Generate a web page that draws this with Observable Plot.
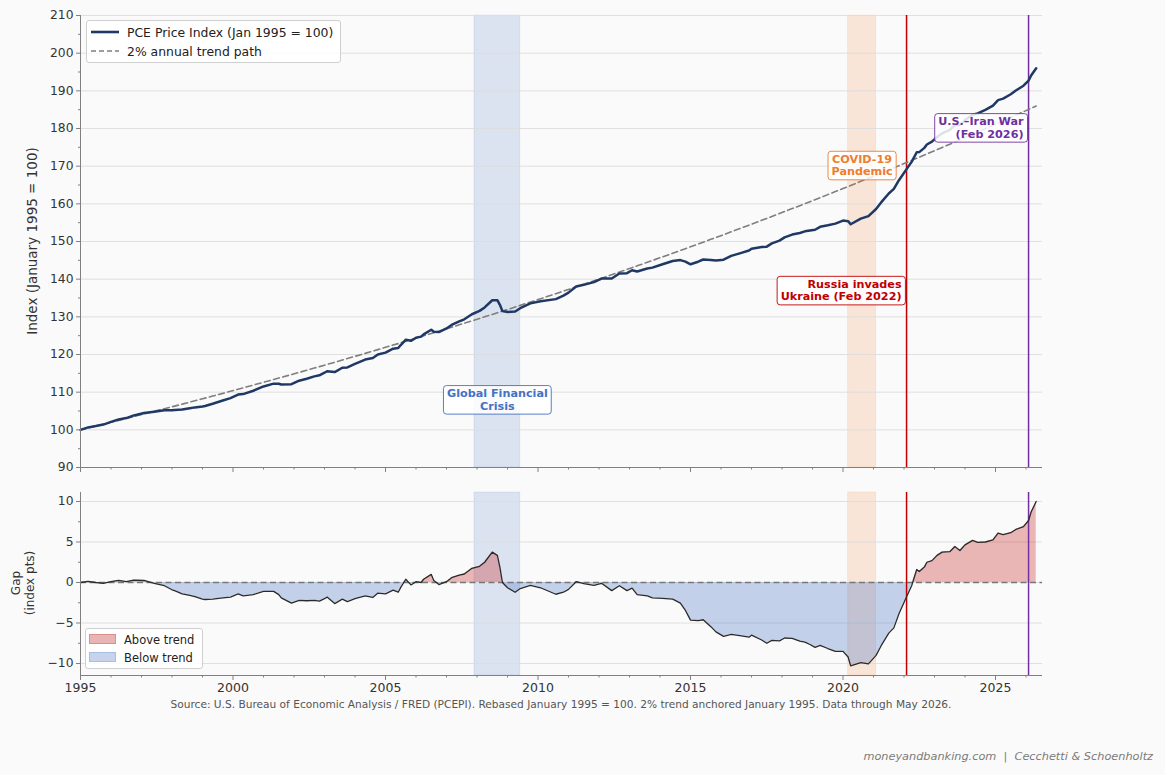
<!DOCTYPE html>
<html><head><meta charset="utf-8">
<script src="https://cdn.jsdelivr.net/npm/d3@7"></script>
<script src="https://cdn.jsdelivr.net/npm/@observablehq/plot@0.6"></script>
<style>
html,body{margin:0;padding:0;background:#fafafa;}
#wrap{position:relative;width:1165px;height:775px;font-family:"DejaVu Sans",sans-serif;color:#333;overflow:hidden;}
#top,#bot{position:absolute;left:0;}
#top{top:0}
#bot{top:480px}
.abs{position:absolute;white-space:nowrap;}
.legend{position:absolute;background:rgba(255,255,255,0.85);border:1px solid #cfcfcf;border-radius:3px;box-sizing:border-box;}
.legend .row{position:absolute;display:flex;align-items:center;}
</style></head><body><div id="wrap">
<div id="top"></div><div id="bot"></div>
</div>
<script>
// ---------- data ----------
const gapDates = ["1995-01","1995-04","1995-07","1995-10","1996-01","1996-04","1996-07","1996-10","1997-02","1997-06","1997-10","1998-01","1998-02","1998-05","1998-08","1998-10","1999-01","1999-02","1999-05","1999-09","1999-12","2000-03","2000-05","2000-09","2001-01","2001-05","2001-07","2001-08","2001-12","2002-03","2002-06","2002-09","2002-11","2003-01","2003-02","2003-05","2003-08","2003-10","2004-01","2004-05","2004-08","2004-10","2005-01","2005-04","2005-06","2005-07","2005-09","2005-10","2005-11","2006-01","2006-03","2006-04","2006-07","2006-08","2006-10","2007-01","2007-03","2007-06","2007-08","2007-11","2008-02","2008-04","2008-07","2008-09","2008-10","2008-11","2009-01","2009-04","2009-06","2009-10","2010-02","2010-08","2010-11","2011-01","2011-04","2011-07","2011-11","2012-02","2012-06","2012-09","2012-12","2013-02","2013-04","2013-08","2013-10","2014-02","2014-06","2014-09","2014-11","2015-01","2015-04","2015-06","2015-09","2015-11","2016-02","2016-05","2016-09","2016-12","2017-01","2017-05","2017-07","2017-09","2017-12","2018-02","2018-05","2018-08","2018-10","2018-12","2019-02","2019-04","2019-07","2019-10","2020-01","2020-03","2020-04","2020-08","2020-11","2021-02","2021-04","2021-07","2021-09","2021-11","2022-02","2022-04","2022-06","2022-07","2022-09","2022-10","2022-12","2023-02","2023-04","2023-07","2023-09","2023-11","2024-01","2024-04","2024-06","2024-09","2024-12","2025-02","2025-04","2025-07","2025-09","2025-12","2026-02","2026-03","2026-05"];
const gapValues = [0.0,0.15,0.0,-0.1,0.1,0.25,0.1,0.3,0.25,-0.1,-0.4,-0.9,-1.0,-1.4,-1.6,-1.75,-2.05,-2.1,-2.05,-1.9,-1.8,-1.4,-1.65,-1.5,-1.1,-1.1,-1.5,-1.9,-2.55,-2.2,-2.25,-2.2,-2.3,-2.0,-1.8,-2.6,-2.05,-2.35,-2.0,-1.65,-1.85,-1.3,-1.4,-0.95,-1.2,-0.6,0.4,0.05,-0.3,0.1,0.0,0.4,1.0,0.25,-0.25,0.1,0.6,0.9,1.05,1.75,2.0,2.5,3.75,3.35,1.9,0.0,-0.65,-1.2,-0.75,-0.35,-0.65,-1.45,-1.2,-0.85,0.1,-0.15,-0.35,-0.1,-1.0,-0.4,-1.0,-0.7,-1.5,-1.65,-1.9,-1.95,-2.05,-2.55,-3.45,-4.65,-4.7,-4.6,-5.45,-6.1,-6.65,-6.4,-6.6,-6.75,-6.5,-7.1,-7.5,-7.15,-7.2,-6.85,-6.9,-7.25,-7.35,-7.65,-8.0,-7.75,-8.15,-8.5,-8.5,-9.2,-10.3,-9.9,-10.05,-9.0,-7.8,-6.25,-5.6,-3.85,-1.75,-0.4,1.6,1.35,1.9,2.5,2.7,3.35,3.75,3.8,4.45,3.95,4.65,5.2,4.95,5.0,5.25,6.1,5.9,6.15,6.55,6.9,7.65,8.7,10.0];
const baseYear = 1995, baseIndex = 100, trendRate = 0.02;

const bandNames = ["Global Financial Crisis","COVID-19 Pandemic"];
const bandStart = [2007.917, 2020.167];
const bandEnd = [2009.417, 2021.083];
const bandColors = ["#4472c4","#ed7d31"];

const eventNames = ["Russia invades Ukraine","U.S.–Iran War"];
const eventDates = [2022.083, 2026.083];
const eventColors = ["#c00000","#7030a0"];

const annoLabels = ["Global Financial\nCrisis","COVID-19\nPandemic","Russia invades\nUkraine (Feb 2022)","U.S.–Iran War\n(Feb 2026)"];
const annoX = [2008.667, 2020.625, 2022.083, 2026.083];
const annoY = [108.1, 170.3, 137.1, 180.3];
const annoAnchor = ["middle","middle","end","end"];
const annoColors = ["#4472c4","#ed7d31","#c00000","#7030a0"];

const xDomain = [1995, 2026.54];
const xMajor = [1995, 2000, 2005, 2010, 2015, 2020, 2025];
const xMinor = d3.range(1996, 2027);
const yTopDomain = [90, 210];
const yTopTicks = [90,100,110,120,130,140,150,160,170,180,190,200,210];
const yTopMinor = [95,105,115,125,135,145,155,165,175,185,195,205];
const yGapDomain = [-11.48, 11.11];
const yGapTicks = [-10,-5,0,5,10];
const yGapMinor = [-7.5,-2.5,2.5,7.5];

// ---------- derived ----------
const series = gapDates.map((d, i) => {
  const [yy, mm] = d.split("-").map(Number);
  const t = yy + (mm - 1) / 12;
  const trend = baseIndex * Math.pow(1 + trendRate, t - baseYear);
  return {t, gap: gapValues[i], trend, index: trend + gapValues[i]};
});
const bandRows = (lo, hi) => bandNames.map((n, i) => ({name: n, start: bandStart[i], end: bandEnd[i], color: bandColors[i], lo, hi}));
const eventRows = eventNames.map((n, i) => ({name: n, t: eventDates[i], color: eventColors[i]}));

const font = "DejaVu Sans, sans-serif";
const common = {
  width: 1165,
  marginLeft: 80, marginRight: 123,
  x: {domain: xDomain},
  color: {type: "identity"},
  style: {fontFamily: font, fontSize: "12px", background: "transparent", color: "#333", overflow: "visible"}
};
const axisStroke = "#808080";

const topChart = Plot.plot({
  ...common,
  height: 480, marginTop: 15, marginBottom: 13,
  y: {domain: yTopDomain},
  marks: [
    Plot.rect(bandRows(yTopDomain[0], yTopDomain[1]), {x1: "start", x2: "end", y1: "lo", y2: "hi", fill: "color", fillOpacity: 0.17, stroke: "color", strokeOpacity: 0.12}),
    Plot.gridY(yTopTicks.filter(v => v > 90), {stroke: "#dcdcdc", strokeOpacity: 1, strokeWidth: 0.9}),
    Plot.ruleX(eventRows, {x: "t", stroke: "color", strokeWidth: 1.5}),
    Plot.line(series, {x: "t", y: "trend", stroke: "#7f7f7f", strokeWidth: 1.6, strokeDasharray: "6,3.5"}),
    Plot.line(series, {x: "t", y: "index", stroke: "#1f3864", strokeWidth: 2.5, curve: "linear"}),
    ...annoLabels.map((lab, i) => Plot.text([lab], {x: () => annoX[i], y: () => annoY[i], text: d => d, textAnchor: annoAnchor[i], dx: annoAnchor[i] === "end" ? -5 : 0, fill: annoColors[i], fontWeight: "bold", fontSize: 11.2, lineHeight: 1.12})),
    Plot.ruleX([xDomain[0]], {stroke: axisStroke, strokeWidth: 1}),
    Plot.ruleY([yTopDomain[0]], {stroke: axisStroke, strokeWidth: 1}),
    Plot.axisY(yTopTicks, {tickSize: 4, tickPadding: 3, label: null, stroke: axisStroke, fill: "#333", fontSize: 12.3}),
    Plot.axisY(yTopMinor, {tickSize: 2, tickFormat: () => "", label: null, stroke: axisStroke}),
    Plot.axisX(xMajor, {tickSize: 5, tickFormat: () => "", label: null, stroke: axisStroke}),
    Plot.axisX(xMinor.filter(v => !xMajor.includes(v)), {tickSize: 2.5, tickFormat: () => "", label: null, stroke: axisStroke})
  ]
});

const botChart = Plot.plot({
  ...common,
  height: 215, marginTop: 12, marginBottom: 20,
  y: {domain: yGapDomain},
  marks: [
    Plot.rect(bandRows(yGapDomain[0], yGapDomain[1]), {x1: "start", x2: "end", y1: "lo", y2: "hi", fill: "color", fillOpacity: 0.17, stroke: "color", strokeOpacity: 0.12}),
    Plot.gridY(yGapTicks, {stroke: "#dcdcdc", strokeOpacity: 1, strokeWidth: 0.9}),
    Plot.areaY(series, {x: "t", y1: 0, y2: "gap", fill: "#cc3333", fillOpacity: 0.35}),
    Plot.areaY(series, {x: "t", y1: 0, y2: "gap", fill: "#4472c4", fillOpacity: 0.3}),
    Plot.ruleY([0], {stroke: "#777", strokeWidth: 1.4, strokeDasharray: "6,3.5"}),
    Plot.ruleX(eventRows, {x: "t", stroke: "color", strokeWidth: 1.5}),
    Plot.line(series, {x: "t", y: "gap", stroke: "#2a2a2a", strokeWidth: 1.3}),
    Plot.ruleX([xDomain[0]], {stroke: axisStroke, strokeWidth: 1}),
    Plot.ruleY([yGapDomain[0]], {stroke: axisStroke, strokeWidth: 1}),
    Plot.axisY(yGapTicks, {tickSize: 4, tickPadding: 3, label: null, stroke: axisStroke, fill: "#333", fontSize: 12.3, tickFormat: d => d < 0 ? "\u2212" + Math.abs(d) : String(d)}),
    Plot.axisY(yGapMinor, {tickSize: 2, tickFormat: () => "", label: null, stroke: axisStroke}),
    Plot.axisX(xMajor, {tickSize: 5, tickPadding: 3, tickFormat: d => String(d), label: null, stroke: axisStroke, fill: "#333", fontSize: 12.5}),
    Plot.axisX(xMinor.filter(v => !xMajor.includes(v)), {tickSize: 2.5, tickFormat: () => "", label: null, stroke: axisStroke})
  ]
});

document.getElementById("top").appendChild(topChart);
document.getElementById("bot").appendChild(botChart);

// clip gap areas to above / below zero
{
  const svg = d3.select(botChart);
  const y0 = botChart.scale("y").apply(0);
  const defs = svg.insert("defs", ":first-child");
  defs.append("clipPath").attr("id", "clipAbove").append("rect").attr("x", 0).attr("y", 0).attr("width", 1165).attr("height", y0);
  defs.append("clipPath").attr("id", "clipBelow").append("rect").attr("x", 0).attr("y", y0).attr("width", 1165).attr("height", 300);
  const areas = svg.selectAll('g[aria-label="area"]').nodes();
  if (areas[0]) areas[0].setAttribute("clip-path", "url(#clipAbove)");
  if (areas[1]) areas[1].setAttribute("clip-path", "url(#clipBelow)");
}

// annotation boxes
{
  const groups = d3.select(topChart).selectAll('g[aria-label="text"]').nodes();
  groups.forEach((g, i) => {
    const txt = g.querySelector("text");
    if (!txt) return;
    const bb = txt.getBBox();
    const r = document.createElementNS("http://www.w3.org/2000/svg", "rect");
    r.setAttribute("x", bb.x - 3.5);
    r.setAttribute("y", bb.y - 1.5);
    r.setAttribute("width", bb.width + 7);
    r.setAttribute("height", bb.height + 3);
    r.setAttribute("rx", 3);
    r.setAttribute("fill", "white");
    r.setAttribute("fill-opacity", 0.85);
    r.setAttribute("stroke", annoColors[i]);
    r.setAttribute("stroke-width", 0.9);
    const tr = txt.getAttribute("transform");
    if (tr) r.setAttribute("transform", tr);
    g.insertBefore(r, txt);
  });
}

// ---------- HTML text: labels, legends, captions ----------
const wrap = document.getElementById("wrap");
function add(html, css) {
  const d = document.createElement("div");
  d.className = "abs";
  d.innerHTML = html;
  Object.assign(d.style, css);
  wrap.appendChild(d);
  return d;
}
add("Index (January 1995 = 100)", {left: "32px", top: "241px", fontSize: "13.5px", transform: "translate(-50%,-50%) rotate(-90deg)", color: "#333"});
add("Gap<br>(index pts)", {left: "23px", top: "583px", fontSize: "12px", lineHeight: "14px", textAlign: "center", transform: "translate(-50%,-50%) rotate(-90deg)", color: "#333"});

// top legend
const legendTopItems = ["PCE Price Index (Jan 1995 = 100)", "2% annual trend path"];
const lt = document.createElement("div");
lt.className = "legend";
Object.assign(lt.style, {left: "86px", top: "20px", width: "255px", height: "43px"});
lt.innerHTML =
  `<div class="row" style="left:3px;top:3px;height:16px"><svg width="30" height="10"><line x1="1" x2="29" y1="5" y2="5" stroke="#1f3864" stroke-width="2.6"/></svg><span style="margin-left:7px;font-size:12.4px;color:#222">${legendTopItems[0]}</span></div>` +
  `<div class="row" style="left:3px;top:22px;height:16px"><svg width="30" height="10"><line x1="1" x2="29" y1="5" y2="5" stroke="#7f7f7f" stroke-width="1.6" stroke-dasharray="5,3"/></svg><span style="margin-left:7px;font-size:12.4px;color:#222">${legendTopItems[1]}</span></div>`;
wrap.appendChild(lt);

// bottom legend
const legendBotItems = ["Above trend", "Below trend"];
const lb = document.createElement("div");
lb.className = "legend";
Object.assign(lb.style, {left: "85px", top: "628px", width: "118px", height: "41px"});
lb.innerHTML =
  `<div class="row" style="left:3px;top:3px;height:15px"><svg width="28" height="11"><rect x="0.5" y="0.5" width="26" height="9" fill="#e8b4b4" stroke="#de8e8e"/></svg><span style="margin-left:7px;font-size:11.5px;color:#222">${legendBotItems[0]}</span></div>` +
  `<div class="row" style="left:3px;top:21px;height:15px"><svg width="28" height="11"><rect x="0.5" y="0.5" width="26" height="9" fill="#c7d3ea" stroke="#a9bde2"/></svg><span style="margin-left:7px;font-size:11.5px;color:#222">${legendBotItems[1]}</span></div>`;
wrap.appendChild(lb);

add("Source: U.S. Bureau of Economic Analysis / FRED (PCEPI). Rebased January 1995 = 100. 2% trend anchored January 1995. Data through May 2026.",
  {left: "561px", top: "698px", fontSize: "10.6px", color: "#555", transform: "translateX(-50%)"});
add("moneyandbanking.com&nbsp; | &nbsp;Cecchetti &amp; Schoenholtz",
  {right: "12px", top: "750px", fontSize: "11.3px", fontStyle: "italic", color: "#7a7a7a"});
</script></body></html>
